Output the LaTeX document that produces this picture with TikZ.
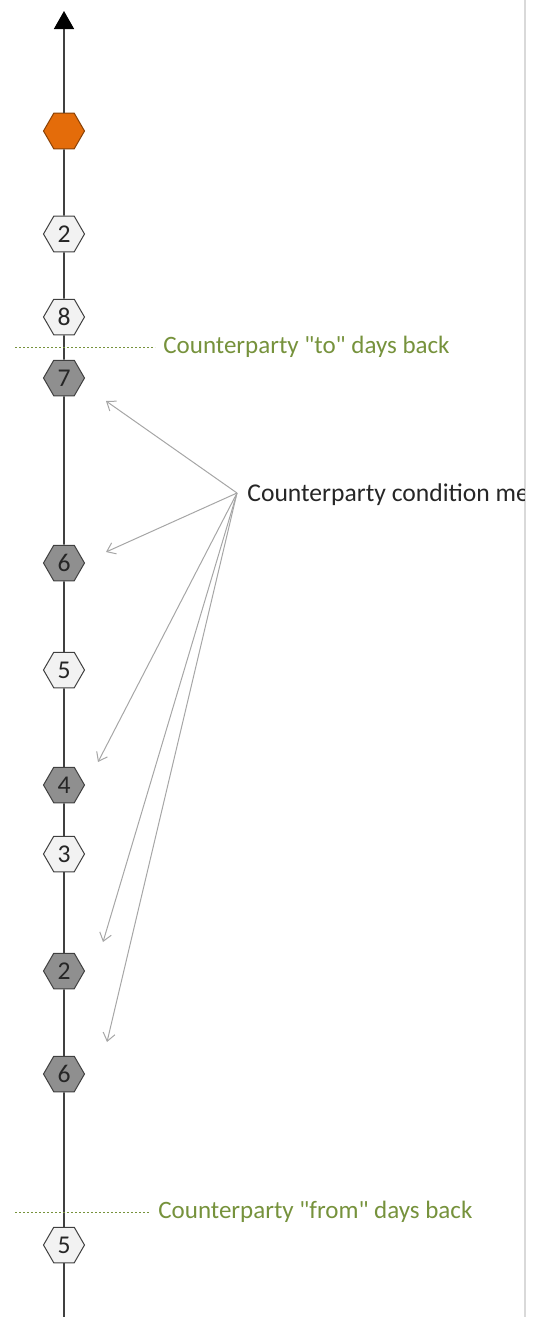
\documentclass[tikz,border=0pt]{standalone}
\usepackage{fontspec}
\setmainfont{Carlito}
\usetikzlibrary{shapes.geometric,arrows.meta}

\definecolor{axisgray}{HTML}{404040}
\definecolor{darkhex}{HTML}{8F8F8F}
\definecolor{lighthex}{HTML}{F2F2F2}
\definecolor{orangehex}{HTML}{E46C0A}
\definecolor{olivetext}{HTML}{76923C}
\definecolor{pointer}{HTML}{A6A6A6}
\definecolor{framegray}{HTML}{D9D9D9}
\definecolor{inktext}{HTML}{262626}

\tikzset{
  hexbase/.style={regular polygon, regular polygon sides=6, minimum size=20.5pt,
    inner sep=0pt, draw=axisgray, line width=0.5pt, text=inktext,
    font=\fontsize{12.8}{14}\selectfont},
  hexlight/.style={hexbase, fill=lighthex},
  hexdark/.style={hexbase, fill=darkhex},
  hexorange/.style={hexbase, fill=orangehex, draw=orangehex!60!black},
  axisline/.style={draw=axisgray, line width=0.8pt},
  limitline/.style={draw=olivetext, line width=0.5pt, dash pattern=on 1.2pt off 0.8pt},
  limitlabel/.style={anchor=west, inner xsep=4pt, inner ysep=0pt, text=olivetext,
    font=\fontsize{12.5}{14}\selectfont},
  pointerline/.style={draw=pointer, line width=0.5pt,
    -{Straight Barb[length=4pt,width=6pt]}},
}

\begin{document}
\begin{tikzpicture}[x=0.5pt, y=-0.5pt]
  \useasboundingbox (0,0) rectangle (541,1317);

  % right page border
  \draw[framegray, line width=1pt] (525,0) -- (525,1317);

  % timeline ends
  \coordinate (top) at (64,12);
  \coordinate (bot) at (64,1317);

  % events on the timeline, newest at the top
  \node[hexorange] (e1)  at (64,131) {};
  \node[hexlight]  (e2)  at (64,234) {2};
  \node[hexlight]  (e3)  at (64,317) {8};
  \node[hexdark]   (e4)  at (64,378) {7};
  \node[hexdark]   (e5)  at (64,563) {6};
  \node[hexlight]  (e6)  at (64,670) {5};
  \node[hexdark]   (e7)  at (64,785) {4};
  \node[hexlight]  (e8)  at (64,854) {3};
  \node[hexdark]   (e9)  at (64,971) {2};
  \node[hexdark]   (e10) at (64,1074) {6};
  \node[hexlight]  (e11) at (64,1245) {5};

  % axis segments between events
  \draw[axisline] (bot) -- (e11);
  \draw[axisline] (e11) -- (e10);
  \draw[axisline] (e10) -- (e9);
  \draw[axisline] (e9) -- (e8);
  \draw[axisline] (e8) -- (e7);
  \draw[axisline] (e7) -- (e6);
  \draw[axisline] (e6) -- (e5);
  \draw[axisline] (e5) -- (e4);
  \draw[axisline] (e4) -- (e3);
  \draw[axisline] (e3) -- (e2);
  \draw[axisline] (e2) -- (e1);
  \draw[axisline, -{Triangle[length=9pt,width=10pt,color=black]},
    shorten >=-0.5pt] (e1) -- (top);

  % window limits
  \coordinate (tostart) at (15,347);
  \node[limitlabel] (tolabel) at (155,347)
    {Counterparty \textquotedbl to\textquotedbl{} days back};
  \draw[limitline] (tostart) -- (tolabel.west);

  \coordinate (fromstart) at (15,1212);
  \node[limitlabel] (fromlabel) at (150,1212)
    {Counterparty \textquotedbl from\textquotedbl{} days back};
  \draw[limitline] (fromstart) -- (fromlabel.west);

  % condition label, cut off by the page border
  \begin{scope}
    \clip (0,0) rectangle (524,1317);
    \node[anchor=west, inner sep=0pt, text=inktext,
      font=\fontsize{12.8}{15}\selectfont] (cond) at (247,495) {Counterparty condition met};
  \end{scope}

  % pointers to the matching events
  \coordinate (hub) at (237,493);
  \coordinate (p4)  at (106,401);
  \coordinate (p5)  at (106,552);
  \coordinate (p7)  at (98,762);
  \coordinate (p9)  at (103,942);
  \coordinate (p10) at (107,1042);
  \draw[pointerline] (hub) -- (p4);
  \draw[pointerline] (hub) -- (p5);
  \draw[pointerline] (hub) -- (p7);
  \draw[pointerline] (hub) -- (p9);
  \draw[pointerline] (hub) -- (p10);
\end{tikzpicture}
\end{document}
